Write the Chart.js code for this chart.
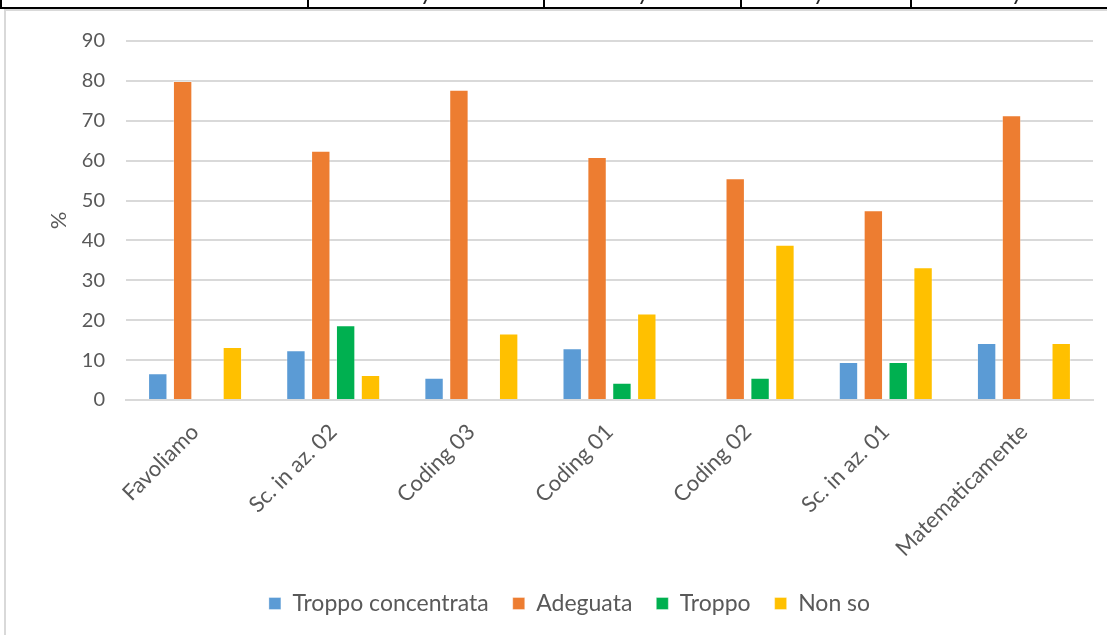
<!DOCTYPE html>
<html>
<head>
<meta charset="utf-8">
<script src="https://cdn.jsdelivr.net/npm/chart.js@4"></script>
<style>
  html, body { margin:0; padding:0; background:#fff; }
  body { width:1107px; height:635px; position:relative; overflow:hidden; }
  .blk { position:absolute; background:#000; }
  .gry { position:absolute; background:#d9d9d9; }
  .cm { position:absolute; top:0; width:2px; height:4px; background:#222; transform:skewX(-25deg); }
  #wrap { position:absolute; left:0; top:0; width:1107px; height:635px; }
</style>
</head>
<body>
<!-- bits of the table above the chart -->
<div class="blk" style="left:0;top:7px;width:1107px;height:2px"></div>
<div class="blk" style="left:0;top:0;width:2px;height:9px"></div>
<div class="blk" style="left:307px;top:0;width:2px;height:9px"></div>
<div class="blk" style="left:543px;top:0;width:2px;height:9px"></div>
<div class="blk" style="left:740px;top:0;width:2px;height:9px"></div>
<div class="blk" style="left:910px;top:0;width:2px;height:9px"></div>
<div class="cm" style="left:424px"></div>
<div class="cm" style="left:641px"></div>
<div class="cm" style="left:817px"></div>
<div class="cm" style="left:1015px"></div>
<!-- chart frame -->
<div class="gry" style="left:4px;top:9px;width:1103px;height:2px"></div>
<div class="gry" style="left:4px;top:9px;width:2px;height:626px"></div>
<div id="wrap"><canvas id="chart"></canvas></div>

<script>
const categories = ['Favoliamo','Sc. in az. 02','Coding 03','Coding 01','Coding 02','Sc. in az. 01','Matematicamente'];
const troppoConcentrata = [6.7, 12.5, 5.6, 13.0, 0, 9.5, 14.3];
const adeguata = [80.0, 62.5, 77.8, 60.9, 55.6, 47.6, 71.4];
const troppo = [0, 18.75, 0, 4.3, 5.6, 9.5, 0];
const nonSo = [13.3, 6.25, 16.7, 21.7, 38.9, 33.3, 14.3];
const yTicks = [0,10,20,30,40,50,60,70,80,90];

const FONT = 'Lato, "Open Sans", sans-serif';
const TXT = '#595959';

function series(label, data, color) {
  return {
    label: label, data: data, backgroundColor: color,
    borderColor: 'rgba(255,255,255,0.35)', borderWidth: 1,
    categoryPercentage: 0.72, barPercentage: 0.78
  };
}

Chart.defaults.animation = false;
Chart.defaults.font.family = FONT;
Chart.defaults.color = TXT;

new Chart(document.getElementById('chart'), {
  type: 'bar',
  data: {
    labels: categories,
    datasets: [
      series('Troppo concentrata', troppoConcentrata, '#5B9BD5'),
      series('Adeguata', adeguata, '#ED7D31'),
      series('Troppo', troppo, '#00B050'),
      series('Non so', nonSo, '#FFC000')
    ]
  },
  options: {
    responsive: true,
    maintainAspectRatio: false,
    layout: { padding: { left: 46, top: 41, right: 14, bottom: 10 } },
    plugins: {
      tooltip: { enabled: false },
      legend: {
        position: 'bottom',
        labels: { boxWidth: 12, boxHeight: 12, padding: 24, font: { size: 23 }, color: TXT }
      }
    },
    scales: {
      x: {
        grid: { display: false },
        border: { color: '#d9d9d9', width: 2 },
        ticks: { minRotation: 45, maxRotation: 45, padding: 11, font: { size: 22 }, color: TXT },
        afterFit: s => { s.height = 168; }
      },
      y: {
        min: 0, max: 90,
        afterBuildTicks: s => { s.ticks = yTicks.map(v => ({ value: v })); },
        grid: { color: '#d9d9d9', lineWidth: 2, drawTicks: false },
        border: { display: false },
        ticks: { padding: 21, font: { size: 20 }, color: TXT },
        title: { display: true, text: '%', font: { size: 22 }, color: TXT, padding: 0 },
        afterFit: s => { s.width = 80; }
      }
    }
  }
});
</script>
</body>
</html>
